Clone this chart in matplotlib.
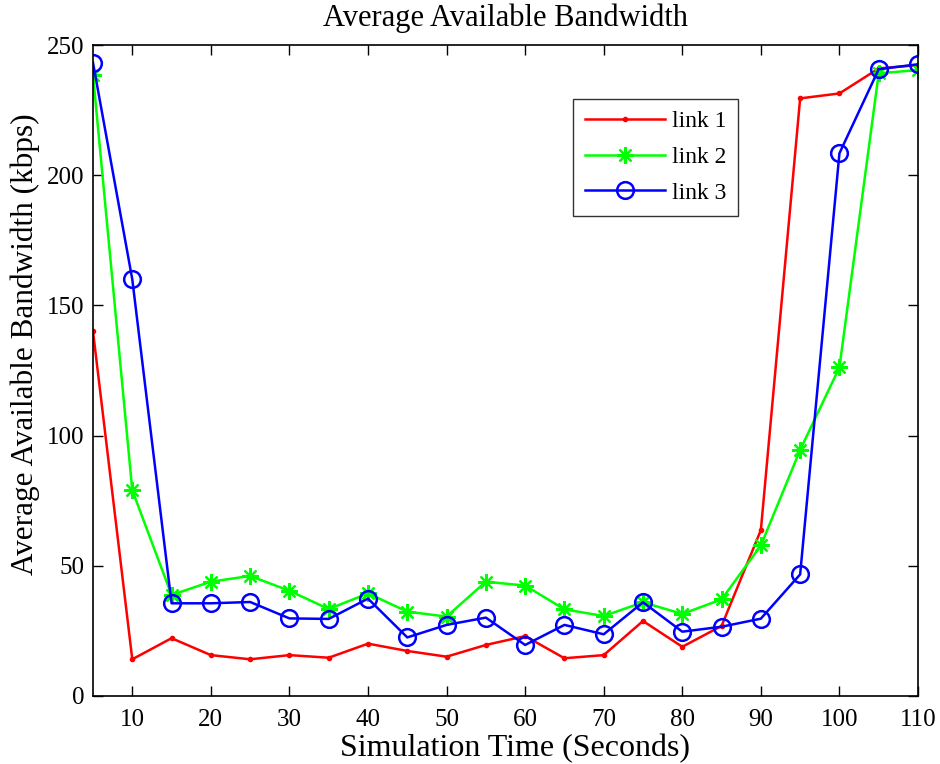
import matplotlib

matplotlib.use("Agg")
import matplotlib.pyplot as plt

plt.rcParams["font.family"] = ["Liberation Serif", "DejaVu Serif"]

# ---------------- Data ----------------

time_s = [5, 10, 15, 20, 25, 30, 35, 40, 45, 50, 55,
          60, 65, 70, 75, 80, 85, 90, 95, 100, 105, 110]

link1 = [140, 14.1, 22.2, 15.7, 14.1, 15.7, 14.7, 20.1, 17.3, 15.1, 19.6,
         23.0, 14.5, 15.7, 28.8, 18.9, 26.9, 63.7, 229.5, 231.4, 241.0, 242.3]
link2 = [238.5, 79, 38.8, 43.9, 46.1, 40.4, 33.4, 39.4, 32.4, 30.5, 43.9,
         42.4, 33.3, 30.7, 36.0, 31.5, 37.1, 57.8, 94.5, 126.2, 239.1, 240.4]
link3 = [243.2, 160, 35.6, 35.6, 36.1, 29.8, 29.6, 37.4, 22.5, 27.3, 30.1,
         19.6, 27.3, 23.7, 36.0, 24.7, 26.6, 29.7, 46.7, 208.4, 240.7, 242.6]

x_ticks = list(range(10, 111, 10))
y_ticks = list(range(0, 251, 50))

# ---------------- Plot ----------------

fig = plt.figure(figsize=(9.4, 7.64), dpi=100)
ax = fig.add_axes([93 / 940, 1 - 696 / 764, 825 / 940, 651 / 764])

ax.plot(time_s, link1, color="#ff0000", lw=1.8, marker=".", ms=6, label="link 1")
# MATLAB-style asterisk: 8 spokes
ax.plot(time_s, link2, color="#00ff00", lw=1.8, marker=(8, 2, 0), ms=12,
        mew=1.6, label="link 2")
ax.plot(time_s, link3, color="#0000ff", lw=1.8, marker="o", ms=12,
        mfc="none", mew=1.8, label="link 3")

ax.set_xlim(5, 110)
ax.set_ylim(0, 250)
ax.set_xticks(x_ticks)
ax.set_yticks(y_ticks)
ax.tick_params(direction="in", top=True, right=True, length=7, width=1,
               labelsize=18)
ax.tick_params(axis="x", pad=9)
ax.tick_params(axis="y", pad=6)
for sp in ax.spines.values():
    sp.set_linewidth(1.2)

ax.set_title("Average Available Bandwidth", fontsize=22, pad=14)
ax.set_xlabel("Simulation Time (Seconds)", fontsize=23)
ax.set_ylabel("Average Available Bandwidth (kbps)", fontsize=22.5)
ax.xaxis.set_label_coords(0.511, -0.058)
ax.yaxis.set_label_coords(-0.064, 0.541)

leg = ax.legend(loc="upper left", bbox_to_anchor=(480 / 825, 1 - 54 / 651),
                fontsize=17, frameon=True, fancybox=False, edgecolor="black",
                borderpad=0.5, handlelength=3.4, labelspacing=0.6,
                handletextpad=0.3, borderaxespad=0)
leg.get_frame().set_linewidth(1.0)

fig.savefig("out.png", dpi=100)
